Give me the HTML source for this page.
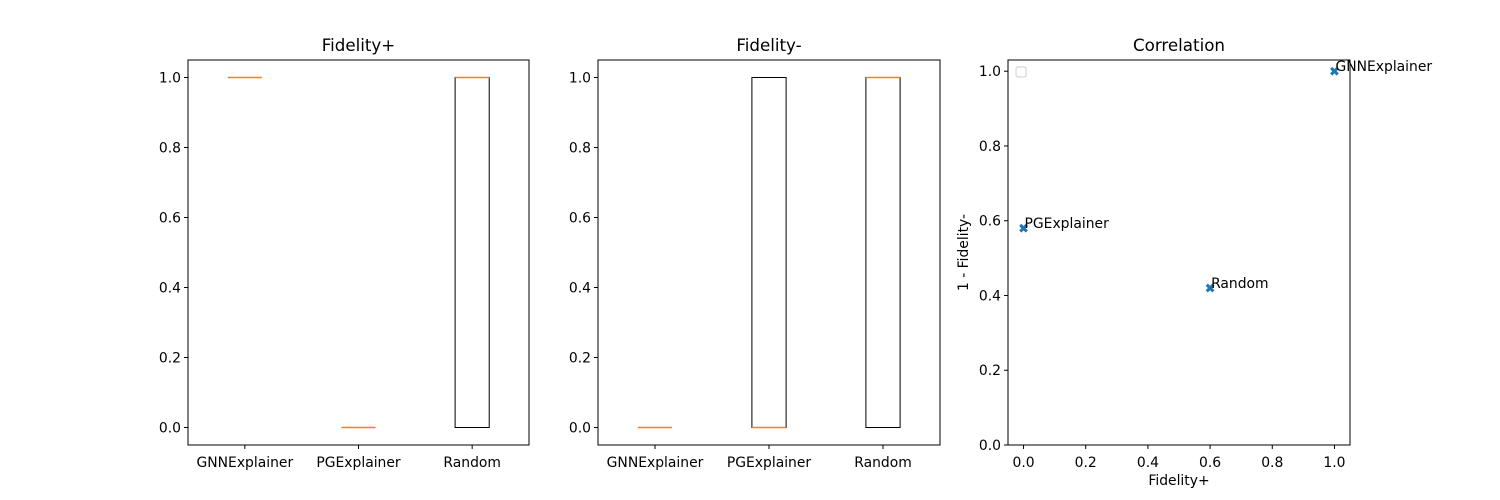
<!DOCTYPE html>
<html><head><meta charset="utf-8"><style>
body{margin:0;background:#fff;}
svg{display:block;font-family:"DejaVu Sans","Liberation Sans",sans-serif;}
</style></head><body>
<svg id="c" width="1500" height="500"></svg>
<script>
const categories=["GNNExplainer","PGExplainer","Random"];
// [whiskerLow, q1, median, q3, whiskerHigh]
const fidPlusStats=[[1,1,1,1,1],[0,0,0,0,0],[0,0,1,1,1]];
const fidMinusStats=[[0,0,0,0,0],[0,0,0,1,1],[0,0,1,1,1]];
const yTicks=[0,0.2,0.4,0.6,0.8,1.0];
const xTicksCorr=[0,0.2,0.4,0.6,0.8,1.0];
const corrX=[1.0,0.0,0.6];
const corrY=[1.0,0.58,0.42];
const NS="http://www.w3.org/2000/svg";
const svg=document.getElementById('c');
const FS=13.9;
function el(t,a,p){const e=document.createElementNS(NS,t);for(const k in a)e.setAttribute(k,a[k]);(p||svg).appendChild(e);return e;}
function txt(s,x,y,a,p){const e=el('text',Object.assign({x:x,y:y,'font-size':FS,fill:'#000'},a),p);e.textContent=s;return e;}

function boxPanel(name,title,L,R,T,B,stats){
  const g=el('g',{});
  
  
  const sx=v=>L+(v-0.5)/3*(R-L);
  const sy=v=>B-(v+0.05)/1.1*(B-T);
  yTicks.forEach(t=>{const y=sy(t);el('line',{x1:L-4,x2:L,y1:y,y2:y,stroke:'#000'},g);
    const lb=txt(t.toFixed(1),L-7,y+5,{'text-anchor':'end'},g);
    });
  categories.forEach((c,i)=>{const x=sx(i+1);el('line',{x1:x,x2:x,y1:B,y2:B+4,stroke:'#000'},g);
    const lb=txt(c,x,B+22,{'text-anchor':'middle'},g);
    
    const s=stats[i];const w=0.15*(R-L)/3;const cw=w/2;
    const bx=el('rect',{x:x-w,y:sy(s[3]),width:2*w,height:Math.max(0,sy(s[1])-sy(s[3])),fill:'none',stroke:'#000'},g);
    
    el('line',{x1:x,x2:x,y1:sy(s[3]),y2:sy(s[4]),stroke:'#000'},g);
    el('line',{x1:x,x2:x,y1:sy(s[1]),y2:sy(s[0]),stroke:'#000'},g);
    el('line',{x1:x-cw,x2:x+cw,y1:sy(s[0]),y2:sy(s[0]),stroke:'#000'},g);
    el('line',{x1:x-cw,x2:x+cw,y1:sy(s[4]),y2:sy(s[4]),stroke:'#000'},g);
    const m=el('line',{x1:x-w,x2:x+w,y1:sy(s[2]),y2:sy(s[2]),stroke:'#ff7f0e','stroke-width':1.5},g);
    
  });
  el('rect',{x:L,y:T,width:R-L,height:B-T,fill:'none',stroke:'#000'},g);
  const tt=txt(title,(L+R)/2,T-9,{'text-anchor':'middle','font-size':16.7},g);
  
}
boxPanel('fidelity-plus-panel','Fidelity+',188,529,60,445,fidPlusStats);
boxPanel('fidelity-minus-panel','Fidelity-',598,940,60,445,fidMinusStats);

(function(){
  const L=1008,R=1350,T=60,B=445;
  const g=el('g',{});
  
  
  const sx=v=>L+(v+0.05)/1.1*(R-L);
  const sy=v=>B-v/1.03*(B-T);
  yTicks.forEach(t=>{const y=sy(t);el('line',{x1:L-4,x2:L,y1:y,y2:y,stroke:'#000'},g);
    const lb=txt(t.toFixed(1),L-7,y+5,{'text-anchor':'end'},g);
    });
  xTicksCorr.forEach(t=>{const x=sx(t);el('line',{x1:x,x2:x,y1:B,y2:B+4,stroke:'#000'},g);
    const lb=txt(t.toFixed(1),x,B+22,{'text-anchor':'middle'},g);
    });
  categories.forEach((c,i)=>{const x=sx(corrX[i]),y=sy(corrY[i]);const a=2.2;
    const p=el('path',{d:`M${x-2*a},${y-a} L${x-a},${y-2*a} L${x},${y-a} L${x+a},${y-2*a} L${x+2*a},${y-a} L${x+a},${y} L${x+2*a},${y+a} L${x+a},${y+2*a} L${x},${y+a} L${x-a},${y+2*a} L${x-2*a},${y+a} L${x-a},${y} Z`,fill:'#1f77b4'},g);
    
    const lb=txt(c,x+1,y,{},g);
    
  });
  el('rect',{x:L,y:T,width:R-L,height:B-T,fill:'none',stroke:'#000'},g);
  const lg=el('rect',{x:1016,y:67,width:10,height:10,rx:2,fill:'#fff',stroke:'#ccc'},g);
  
  const tt=txt('Correlation',(L+R)/2,T-9,{'text-anchor':'middle','font-size':16.7},g);
  
  const xt=txt('Fidelity+',(L+R)/2,485,{'text-anchor':'middle'},g);
  
  const yt=txt('1 - Fidelity-',968,(T+B)/2,{'text-anchor':'middle',transform:`rotate(-90 968 ${(T+B)/2})`},g);
  
})();
</script>
</body></html>
